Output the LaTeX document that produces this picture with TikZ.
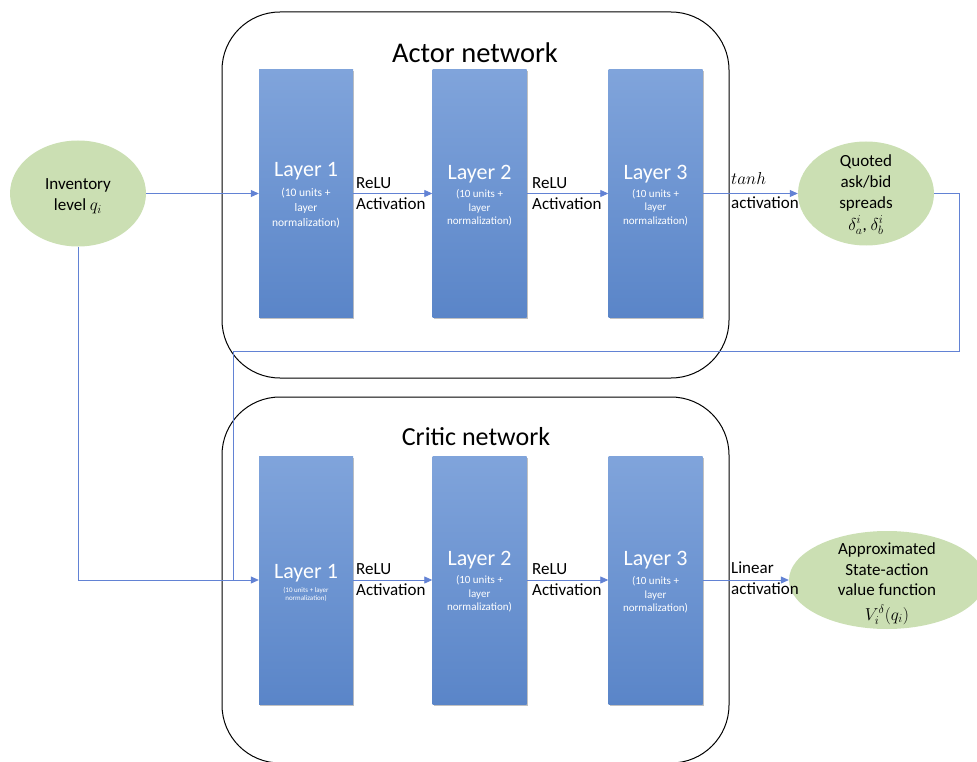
\documentclass[tikz,border=0pt]{standalone}
\usepackage{fontspec}
\setmainfont{Carlito}
\usetikzlibrary{arrows.meta,shadows,shapes.geometric}
\definecolor{layerTop}{RGB}{128,164,219}
\definecolor{layerBot}{RGB}{90,133,200}
\definecolor{ellG}{RGB}{203,223,179}
\definecolor{lineB}{RGB}{98,130,212}
\begin{document}
\begin{tikzpicture}[x=1pt,y=-1pt,
  netbox/.style={rectangle,draw=black,line width=1pt,rounded corners=58pt,minimum width=507pt,minimum height=366pt,inner sep=0pt},
  layerbox/.style={rectangle,inner sep=0pt,minimum width=94pt,minimum height=248pt,top color=layerTop,bottom color=layerBot,draw=none,
    drop shadow={shadow xshift=1.2pt,shadow yshift=-1.6pt,opacity=0.35,fill=black!70}},
  greenell/.style={ellipse,fill=ellG,draw=none,inner sep=0pt},
  nettitle/.style={inner sep=0pt,anchor=base},
  laytitle/.style={inner sep=0pt,text=white,font=\fontsize{22}{26}\selectfont},
  laysub/.style={inner sep=0pt,text=white,align=center,font=\fontsize{11}{13.5}\selectfont},
  laysubtiny/.style={inner sep=0pt,text=white,align=center,font=\fontsize{7}{8}\selectfont},
  lbl/.style={inner sep=0pt,anchor=base west,font=\fontsize{17}{21}\selectfont},
  elltxt/.style={inner sep=0pt,anchor=base,font=\fontsize{17}{21}\selectfont},
  conn/.style={draw=lineB,line width=0.8pt},
  arr/.style={conn,-{Triangle[length=8pt,width=7pt]}}
]
\useasboundingbox (0,0) rectangle (977,762);
\clip (0,0) rectangle (977,762);

% network containers
\node[netbox] (actor) at (475.5,195) {};
\node[netbox] (critic) at (475.5,580) {};
\node[nettitle,font=\fontsize{28.5}{32}\selectfont] (actorT) at (475,63) {Actor network};
\node[nettitle,font=\fontsize{26}{30}\selectfont] (criticT) at (476,445) {Critic network};

% actor layers
\node[layerbox] (a1) at (306,193.5) {};
\node[layerbox] (a2) at (479.5,193.5) {};
\node[layerbox] (a3) at (655.5,193.5) {};
\node[laytitle] (a1t) at (306,171) {Layer 1};
\node[laysub,font=\fontsize{11.5}{15}\selectfont] (a1s) at (306,208) {(10 units +\\layer\\normalization)};
\node[laytitle] (a2t) at (479.5,174) {Layer 2};
\node[laysub] (a2s) at (479.5,208) {(10 units +\\layer\\normalization)};
\node[laytitle] (a3t) at (655.5,174) {Layer 3};
\node[laysub] (a3s) at (655.5,207.5) {(10 units +\\layer\\normalization)};

% critic layers
\node[layerbox] (c1) at (306,580) {};
\node[layerbox] (c2) at (479.5,580) {};
\node[layerbox] (c3) at (655.5,580) {};
\node[laytitle] (c1t) at (306,573.5) {Layer 1};
\node[laysubtiny] (c1s) at (306,594) {(10 units + layer\\normalization)};
\node[laytitle] (c2t) at (479.5,560.5) {Layer 2};
\node[laysub] (c2s) at (479.5,594) {(10 units +\\layer\\normalization)};
\node[laytitle] (c3t) at (655.5,560.5) {Layer 3};
\node[laysub] (c3s) at (655.5,595) {(10 units +\\layer\\normalization)};

% ellipses
\node[greenell,minimum width=136pt,minimum height=106pt] (inv) at (78,193.5) {};
\node[elltxt] (invA) at (78,190) {Inventory};
\node[elltxt] (invB) at (78,211) {level $q_i$};

\node[greenell,minimum width=136pt,minimum height=104pt] (quo) at (866,193.5) {};
\node[elltxt] (quoA) at (866,167) {Quoted};
\node[elltxt] (quoB) at (866,188) {ask/bid};
\node[elltxt] (quoC) at (866,209) {spreads};
\node[elltxt] (quoD) at (866,230) {$\delta_a^i$, $\delta_b^i$};

\node[greenell,minimum width=196pt,minimum height=98pt] (app) at (887,580) {};
\node[elltxt] (appA) at (887,554) {Approximated};
\node[elltxt] (appB) at (887,575) {State-action};
\node[elltxt] (appC) at (887,595) {value function};
\node[elltxt] (appD) at (887,620) {$V_i^{\delta}(q_i)$};

% labels
\node[lbl] (la1) at (356,188.5) {ReLU};
\node[lbl] (la1b) at (356,209.5) {Activation};
\node[lbl] (la2) at (532,188.5) {ReLU};
\node[lbl] (la2b) at (532,209.5) {Activation};
\node[lbl] (la3) at (731,185) {$tanh$};
\node[lbl] (la3b) at (731,208) {activation};
\node[lbl] (lc1) at (356,574.5) {ReLU};
\node[lbl] (lc1b) at (356,595.5) {Activation};
\node[lbl] (lc2) at (532,574.5) {ReLU};
\node[lbl] (lc2b) at (532,595.5) {Activation};
\node[lbl] (lc3) at (731,573) {Linear};
\node[lbl] (lc3b) at (731,594) {activation};

% connectors
\coordinate (fbR) at (959,193.5);
\coordinate (fbB) at (959,351);
\coordinate (fbL) at (233,351);
\draw[conn] (quo.east) -- (fbR) -- (fbB) -- (fbL) -- (fbL |- c1.west);
\draw[arr] (inv.south) -- (inv.south |- c1.west) -- (c1.west);
\draw[arr] (inv.east) -- (a1.west);
\draw[arr] (a1.east) -- (a2.west);
\draw[arr] (a2.east) -- (a3.west);
\draw[arr] (a3.east) -- (quo.west);
\draw[arr] (c1.east) -- (c2.west);
\draw[arr] (c2.east) -- (c3.west);
\draw[arr] (c3.east) -- (app.west);
\end{tikzpicture}
\end{document}
